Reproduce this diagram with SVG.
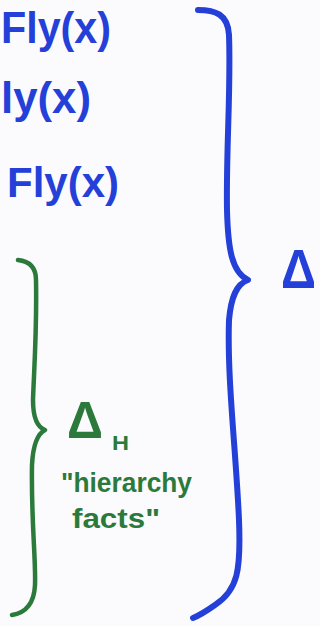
<svg xmlns="http://www.w3.org/2000/svg" width="320" height="626" viewBox="0 0 320 626">
<style>
.b{fill:#2440d8}
.g{fill:#2b7a3b}
.t{font-family:"Liberation Sans",Arial,sans-serif;font-weight:bold}
.brace{fill:none;stroke-linecap:round;stroke-linejoin:round}
</style>
<rect width="320" height="626" fill="#fbfbfd"/>
<g id="formulas">
<text class="t b" x="1" y="43" font-size="44" textLength="110" lengthAdjust="spacingAndGlyphs">Fly(x)</text>
<text class="t b" x="1" y="113" font-size="44" textLength="90" lengthAdjust="spacingAndGlyphs">ly(x)</text>
<text class="t b" x="7" y="197" font-size="42" textLength="112" lengthAdjust="spacingAndGlyphs">Fly(x)</text>
</g>
<g id="delta-brace">
<path class="brace" stroke="#2440d8" stroke-width="6" d="M198,10 C215,10 228,14 229,35 C231,90 226,150 227,210 C228,250 232,272 248,280 C236,284 231,298 229,320 C227,380 236,450 239,520 C241,570 238,590 215,605 C205,612 198,616 193,618"/>
<text class="t b" x="281" y="288" font-size="56" textLength="35" lengthAdjust="spacingAndGlyphs">Δ</text>
</g>
<g id="hierarchy-brace">
<path class="brace" stroke="#2b7a3b" stroke-width="4.5" d="M18,260 C28,261 36,266 36,280 C37,330 34,370 33,400 C33,418 37,427 45,430 C37,434 33,445 32,465 C31,520 36,560 35,585 C34,605 25,613 12,615"/>
<text class="t g" x="67" y="438" font-size="52" textLength="36" lengthAdjust="spacingAndGlyphs">Δ</text>
<text class="t g" x="112" y="450" font-size="20" textLength="17" lengthAdjust="spacingAndGlyphs">H</text>
<text class="t g" x="61" y="492" font-size="27" textLength="131" lengthAdjust="spacingAndGlyphs">"hierarchy</text>
<text class="t g" x="72" y="528" font-size="27" textLength="88" lengthAdjust="spacingAndGlyphs">facts"</text>
</g>
</svg>
